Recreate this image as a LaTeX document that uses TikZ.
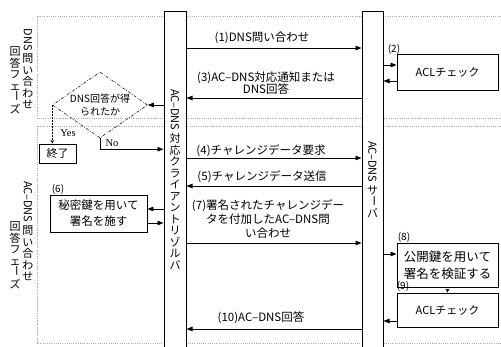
\documentclass[tikz,border=0pt]{standalone}
\usepackage{fontspec}
\usepackage{graphicx}
\setmainfont{Liberation Serif}
\newfontfamily\jp{Noto Sans CJK JP}
\usetikzlibrary{arrows.meta,shapes.geometric}
\newcommand{\rotv}[2]{\vbox to #1{\vss\hbox to 1em{\hss\rotatebox{-90}{#2}\hss}\vss}}
\newcommand{\noskip}{\lineskip=0pt\relax}
\begin{document}
\begin{tikzpicture}[x=1pt,y=-1pt,
  phase/.style={gray!70, line width=0.6pt, dash pattern=on 1pt off 1.2pt},
  bar/.style={draw, line width=1pt, fill=white, inner sep=0},
  vtext/.style={align=center, inner sep=0, font=\jp\fontsize{11}{11.5}\selectfont\noskip},
  lab/.style={align=center, inner sep=0, font=\jp\fontsize{11.5}{12.5}\selectfont},
  num/.style={inner sep=0, font=\jp\fontsize{10}{11}\selectfont},
  box/.style={draw, line width=0.9pt, fill=white, align=center, inner sep=0, font=\jp\fontsize{11}{13}\selectfont},
  arr/.style={line width=0.8pt, -{Triangle[length=6pt,width=4.5pt]}},
  thinarr/.style={line width=0.5pt, densely dotted, -{Stealth[length=4pt,width=4pt,open]}},
  serif/.style={inner sep=0, font=\rmfamily\fontsize{10.5}{12}\selectfont},
  dashdot/.style={line width=0.5pt, dash pattern=on 3pt off 1.5pt on 0.8pt off 1.5pt}
]
\useasboundingbox (0,0) rectangle (501,347);

% phases
\draw[phase] (503,16) -- (37,16) -- (37,118) -- (503,118);
\draw[phase] (503,126) -- (37,126) -- (37,343) -- (503,343);

% phase labels
\node[vtext, anchor=north] (p1a) at (28,28) {\rotv{2.1em}{DNS}\\問\\い\\合\\わ\\せ};
\node[vtext, anchor=south] (p1b) at (15,114) {回\\答\\フ\\ェ\\\rotv{1em}{ー}\\ズ};
\node[vtext, anchor=north] (p2a) at (28,180) {\rotv{3.9em}{AC–DNS}\\問\\い\\合\\わ\\せ};
\node[vtext, anchor=south] (p2b) at (15,289) {回\\答\\フ\\ェ\\\rotv{1em}{ー}\\ズ};

% lifelines
\node[bar, minimum width=22, minimum height=344] (cl) at (175,184) {};
\node[bar, minimum width=21, minimum height=340] (sv) at (372.5,182) {};
\node[vtext, anchor=north] (clt) at (175,88) {\rotv{3.9em}{AC–DNS}\\対\\応\\ク\\ラ\\イ\\ア\\ン\\ト\\リ\\ゾ\\ル\\バ};
\node[vtext, anchor=north] (svt) at (372.5,140) {\rotv{3.9em}{AC–DNS}\\サ\\\rotv{1em}{ー}\\バ};

% messages
\draw[arr] (cl.east |- 0,48) -- (sv.west |- 0,48);
\node[lab] (m1) at (262,38) {(1)DNS問い合わせ};
\draw[arr] (sv.west |- 0,98) -- (cl.east |- 0,98);
\node[lab] (m3) at (266,83) {(3)AC–DNS対応通知または\\DNS回答};
\draw[arr] (cl.east |- 0,158) -- (sv.west |- 0,158);
\node[lab] (m4) at (261,151) {(4)チャレンジデータ要求};
\draw[arr] (sv.west |- 0,186) -- (cl.east |- 0,186);
\node[lab] (m5) at (262,177) {(5)チャレンジデータ送信};
\draw[arr] (cl.east |- 0,243) -- (sv.west |- 0,243);
\node[lab, font=\jp\fontsize{11.5}{14}\selectfont] (m7) at (268,219) {(7)署名されたチャレンジデー\\タを付加したAC–DNS問\\い合わせ};
\draw[arr] (sv.west |- 0,329) -- (cl.east |- 0,329);
\node[lab] (m10) at (261,318) {(10)AC–DNS回答};

% (2) ACL check
\node[box, minimum width=101, minimum height=36] (acl1) at (447.5,72) {ACLチェック};
\node[num] (n2) at (394,49) {(2)};
\draw[arr] (sv.east |- 0,65) -- (acl1.west |- 0,65);
\draw[arr] (acl1.west |- 0,81) -- (sv.east |- 0,81);

% decision
\node[diamond, draw, dashdot, aspect=1.45, inner sep=0, minimum width=95, minimum height=66,
  align=center, font=\jp\fontsize{10}{12.5}\selectfont] (dec) at (100,105) {DNS回答が得\\られたか};
\draw[arr] (cl.west |- dec.east) -- (dec.east);
\node[box, line width=0.6pt, minimum width=37, minimum height=19] (end) at (57.5,153.5) {終了};
\draw[thinarr] (dec.west) -- (dec.west |- end.north);
\node[serif] (yes) at (68,133) {Yes};
\draw[arr] (dec.south) |- ([yshift=-11pt]dec.south -| cl.west);
\node[serif] (no) at (112,143) {No};

% (6)
\node[box, font=\jp\fontsize{11.5}{16}\selectfont, minimum width=97, minimum height=37] (sig) at (98.5,213.5) {秘密鍵を用いて\\署名を施す};
\node[num] (n6) at (58,189) {(6)};
\draw[arr] (cl.west |- 0,209) -- (sig.east |- 0,209);
\draw[arr] (sig.east |- 0,223) -- (cl.west |- 0,223);

% (8)
\node[box, font=\jp\fontsize{12.5}{17}\selectfont, minimum width=101, minimum height=44] (ver) at (447.5,265) {公開鍵を用いて\\署名を検証する};
\node[num] (n8) at (404,237) {(8)};
\draw[arr] (sv.east |- 0,254) -- (ver.west |- 0,254);

% (9)
\node[box, minimum width=101, minimum height=34] (acl2) at (447.5,310) {ACLチェック};
\draw[thinarr] (ver.south) -- (acl2.north);
\node[num] (n9) at (403,286.5) {(9)};
\draw[arr] (acl2.west |- 0,321) -- (sv.east |- 0,321);
\end{tikzpicture}
\end{document}
